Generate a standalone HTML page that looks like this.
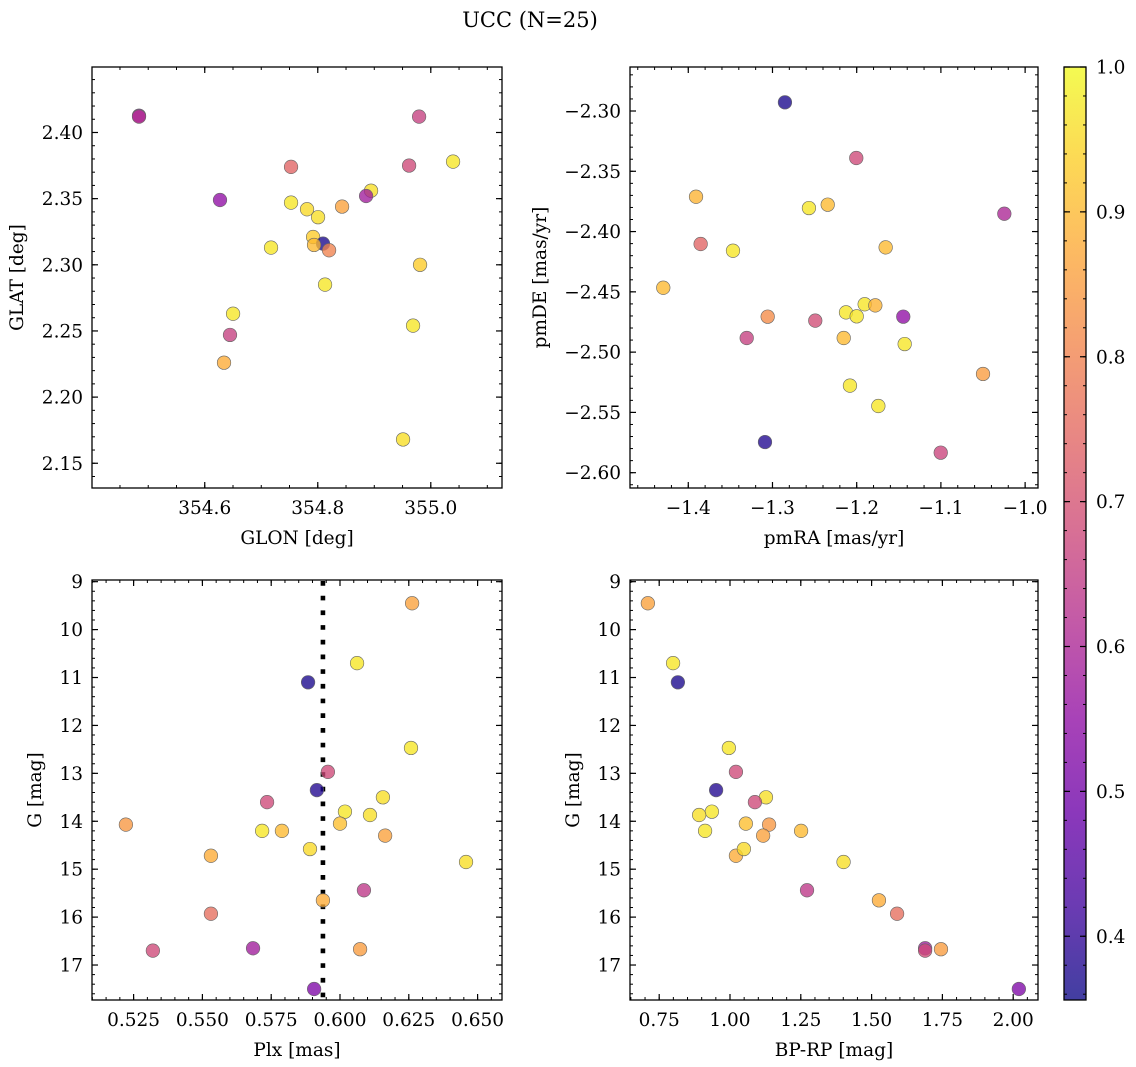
<!DOCTYPE html>
<html><head><meta charset="utf-8"><title>UCC (N=25)</title>
<style>
html,body{margin:0;padding:0;background:#fff;}
svg{display:block;font-family:"DejaVu Serif","Liberation Serif",serif;}
</style></head>
<body>
<svg id="fig" width="1136" height="1067" viewBox="0 0 1136 1067" xmlns="http://www.w3.org/2000/svg">
<defs>
<linearGradient id="plasma" x1="0" y1="1" x2="0" y2="0">
<stop offset="0" stop-color="#0d0887"/><stop offset="0.1" stop-color="#41049d"/><stop offset="0.2" stop-color="#6a00a8"/><stop offset="0.3" stop-color="#8f0da4"/><stop offset="0.4" stop-color="#b12a90"/><stop offset="0.5" stop-color="#cc4778"/><stop offset="0.6" stop-color="#e16462"/><stop offset="0.7" stop-color="#f2844b"/><stop offset="0.8" stop-color="#fca636"/><stop offset="0.9" stop-color="#fcce25"/><stop offset="1" stop-color="#f0f921"/>
</linearGradient>
</defs>
<text x="530" y="27" text-anchor="middle" font-size="21">UCC (N=25)</text>
</svg>
<script>
// ---- data ----
const glon = [354.4837,354.4837,354.627,354.7527,354.9793,354.9616,355.0394,354.8943,354.8855,354.843,354.7527,354.781,354.8005,354.7917,354.8093,354.7934,354.82,354.7173,354.981,354.8129,354.6501,354.6447,354.9686,354.6341,354.9509];
const glat = [2.4127,2.4120,2.349,2.374,2.412,2.375,2.378,2.356,2.352,2.344,2.347,2.342,2.336,2.321,2.316,2.315,2.311,2.313,2.300,2.285,2.263,2.247,2.254,2.226,2.168];
const probPos = [0.55,0.62,0.55,0.74,0.66,0.68,0.97,0.96,0.58,0.86,0.97,0.95,0.96,0.93,0.37,0.90,0.80,0.97,0.93,0.97,0.97,0.66,0.97,0.88,0.96];

const pmra = [-1.2852,-1.2005,-1.3908,-1.2567,-1.2344,-1.0247,-1.3853,-1.3469,-1.1656,-1.4297,-1.3057,-1.3306,-1.2492,-1.2127,-1.1905,-1.1779,-1.2000,-1.1447,-1.2154,-1.1430,-1.0500,-1.2080,-1.1743,-1.3089,-1.1002];
const pmde = [-2.2928,-2.339,-2.3711,-2.3805,-2.3777,-2.3852,-2.4103,-2.4159,-2.4131,-2.4466,-2.4706,-2.4883,-2.4739,-2.467,-2.4603,-2.4612,-2.4703,-2.4706,-2.4883,-2.4933,-2.5181,-2.5278,-2.5447,-2.5746,-2.5834];
const probPm = [0.37,0.68,0.89,0.97,0.90,0.60,0.74,0.97,0.90,0.90,0.82,0.66,0.69,0.97,0.97,0.89,0.97,0.55,0.90,0.97,0.85,0.97,0.97,0.38,0.67];

const plx = [0.6262,0.6062,0.5884,0.6258,0.5956,0.5916,0.6156,0.5735,0.6018,0.6109,0.6000,0.5222,0.5717,0.5789,0.6164,0.5531,0.5891,0.6458,0.6087,0.5938,0.5531,0.5684,0.5320,0.6073,0.5906];
const gmag = [9.45,10.7,11.1,12.47,12.97,13.35,13.5,13.6,13.8,13.87,14.05,14.07,14.2,14.2,14.3,14.72,14.58,14.85,15.44,15.65,15.93,16.65,16.7,16.67,17.5];
const bprp = [0.710,0.799,0.816,0.996,1.021,0.951,1.127,1.088,0.936,0.891,1.056,1.138,0.912,1.251,1.117,1.021,1.049,1.401,1.272,1.526,1.590,1.689,1.689,1.745,2.020];
const probPh = [0.86,0.97,0.37,0.97,0.68,0.38,0.96,0.68,0.97,0.96,0.91,0.84,0.97,0.90,0.86,0.88,0.95,0.96,0.64,0.88,0.76,0.58,0.68,0.85,0.52];

const plxMean = [0.5938];
const cbTicks = [0.4,0.5,0.6,0.7,0.8,0.9,1.0];

// ---- helpers ----
const NS = "http://www.w3.org/2000/svg";
const svg = document.getElementById('fig');
function mk(tag, attrs, parent){const e=document.createElementNS(NS,tag);for(const k in attrs)e.setAttribute(k,attrs[k]);(parent||svg).appendChild(e);return e;}
const stops=[[0,[13,8,135]],[0.1,[65,4,157]],[0.2,[106,0,168]],[0.3,[143,13,164]],[0.4,[177,42,144]],[0.5,[204,71,120]],[0.6,[225,100,98]],[0.7,[242,132,75]],[0.8,[252,166,54]],[0.9,[252,206,37]],[1,[240,249,33]]];
function plasma(t){t=Math.max(0,Math.min(1,t));for(let i=1;i<stops.length;i++){if(t<=stops[i][0]){const a=stops[i-1],b=stops[i];const f=(t-a[0])/(b[0]-a[0]);const c=a[1].map((v,j)=>Math.round(v+(b[1][j]-v)*f));return `rgb(${c[0]},${c[1]},${c[2]})`;}}return 'rgb(240,249,33)';}
const vmin=0.356, vmax=1.0;
function fmt(v,d){const s=v.toFixed(d);return s.replace('-','\u2212');}
const FS=18.5;

function panel(o){
  const g=mk('g',{});
  
  
  const X=v=>o.x0+(v-o.xmin)/(o.xmax-o.xmin)*(o.x1-o.x0);
  const Y=o.yinv? v=>o.y0+(v-o.ymin)/(o.ymax-o.ymin)*(o.y1-o.y0) : v=>o.y1-(v-o.ymin)/(o.ymax-o.ymin)*(o.y1-o.y0);
  if(o.vline){o.vline.forEach(v=>{const l=mk('line',{x1:X(v),x2:X(v),y1:o.y0+1,y2:o.y1,stroke:'#000','stroke-width':4.6,'stroke-dasharray':'4.7 10'},g);});}
  for(let i=0;i<o.xs.length;i++){
    const c=mk('circle',{cx:X(o.xs[i]),cy:Y(o.ys[i]),r:6.8,fill:plasma((o.cs[i]-vmin)/(vmax-vmin)),'fill-opacity':0.78,stroke:'#666','stroke-width':0.6},g);
    
    
  }
  const f=mk('rect',{x:o.x0,y:o.y0,width:o.x1-o.x0,height:o.y1-o.y0,fill:'none',stroke:'#000','stroke-width':1.3},g);
  
  
  const eps=1e-9;
  function ticks(min,max,step){const a=[];const s=Math.ceil((min-eps)/step);for(let k=s;k*step<=max+eps;k++)a.push(+(k*step).toFixed(6));return a;}
  ticks(o.xmin,o.xmax,o.xminor).forEach(v=>{const x=X(v);mk('line',{x1:x,x2:x,y1:o.y1,y2:o.y1-3,stroke:'#000','stroke-width':1},g);mk('line',{x1:x,x2:x,y1:o.y0,y2:o.y0+3,stroke:'#000','stroke-width':1},g);});
  ticks(o.xmin,o.xmax,o.xmajor).forEach(v=>{const x=X(v);mk('line',{x1:x,x2:x,y1:o.y1,y2:o.y1-6,stroke:'#000','stroke-width':1.2},g);mk('line',{x1:x,x2:x,y1:o.y0,y2:o.y0+6,stroke:'#000','stroke-width':1.2},g);
    const t=mk('text',{x:x,y:o.y1+26,'text-anchor':'middle','font-size':FS},g);t.textContent=fmt(v,o.xdec);});
  ticks(o.ymin,o.ymax,o.yminor).forEach(v=>{const y=Y(v);mk('line',{x1:o.x0,x2:o.x0+3,y1:y,y2:y,stroke:'#000','stroke-width':1},g);mk('line',{x1:o.x1,x2:o.x1-3,y1:y,y2:y,stroke:'#000','stroke-width':1},g);});
  ticks(o.ymin,o.ymax,o.ymajor).forEach(v=>{const y=Y(v);mk('line',{x1:o.x0,x2:o.x0+6,y1:y,y2:y,stroke:'#000','stroke-width':1.2},g);mk('line',{x1:o.x1,x2:o.x1-6,y1:y,y2:y,stroke:'#000','stroke-width':1.2},g);
    const t=mk('text',{x:o.x0-9,y:y+6.5,'text-anchor':'end','font-size':FS},g);t.textContent=fmt(v,o.ydec);});
  const xl=mk('text',{x:(o.x0+o.x1)/2,y:o.y1+56,'text-anchor':'middle','font-size':FS},g);xl.textContent=o.xlabel;
  const cy=(o.y0+o.y1)/2;
  const yl=mk('text',{x:o.ylx,y:cy,'text-anchor':'middle','font-size':FS,transform:`rotate(-90 ${o.ylx} ${cy})`},g);yl.textContent=o.ylabel;
}

panel({name:'glon-glat-panel',x0:92,x1:502,y0:67,y1:488,xmin:354.4005,xmax:355.126,ymin:2.1313,ymax:2.4495,xmajor:0.2,xminor:0.05,ymajor:0.05,yminor:0.01,xdec:1,ydec:2,xs:glon,ys:glat,cs:probPos,xlabel:'GLON [deg]',ylabel:'GLAT [deg]',ylx:23});
panel({name:'pm-panel',x0:630,x1:1038,y0:67,y1:488,xmin:-1.4692,xmax:-0.9847,ymin:-2.6127,ymax:-2.2635,xmajor:0.1,xminor:0.02,ymajor:0.05,yminor:0.01,xdec:1,ydec:2,xs:pmra,ys:pmde,cs:probPm,xlabel:'pmRA [mas/yr]',ylabel:'pmDE [mas/yr]',ylx:546});
panel({name:'plx-g-panel',x0:92,x1:502,y0:580,y1:1000,xmin:0.50988,xmax:0.65887,ymin:8.965,ymax:17.73,yinv:true,xmajor:0.025,xminor:0.005,ymajor:1,yminor:0.2,xdec:3,ydec:0,xs:plx,ys:gmag,cs:probPh,vline:plxMean,xlabel:'Plx [mas]',ylabel:'G [mag]',ylx:41});
panel({name:'cmd-panel',x0:630,x1:1038,y0:580,y1:1000,xmin:0.6469,xmax:2.0876,ymin:8.965,ymax:17.73,yinv:true,xmajor:0.25,xminor:0.05,ymajor:1,yminor:0.2,xdec:2,ydec:0,xs:bprp,ys:gmag,cs:probPh,xlabel:'BP-RP [mag]',ylabel:'G [mag]',ylx:579});

// colorbar
(function(){
  const g=mk('g',{});
  
  
  const x0=1064,x1=1086,y0=67,y1=1000;
  const Y=v=>y1-(v-vmin)/(vmax-vmin)*(y1-y0);
  mk('rect',{x:x0,y:y0,width:x1-x0,height:y1-y0,fill:'url(#plasma)','fill-opacity':0.78},g);
  mk('rect',{x:x0,y:y0,width:x1-x0,height:y1-y0,fill:'none',stroke:'#000','stroke-width':1.3},g);
  for(let k=Math.ceil(vmin/0.02);k*0.02<=vmax+1e-9;k++){const y=Y(k*0.02);mk('line',{x1:x1,x2:x1-3,y1:y,y2:y,stroke:'#000','stroke-width':1},g);mk('line',{x1:x0,x2:x0+3,y1:y,y2:y,stroke:'#000','stroke-width':1},g);}
  cbTicks.forEach(v=>{const y=Y(v);mk('line',{x1:x1,x2:x1-6,y1:y,y2:y,stroke:'#000','stroke-width':1.2},g);mk('line',{x1:x0,x2:x0+6,y1:y,y2:y,stroke:'#000','stroke-width':1.2},g);
    const t=mk('text',{x:x1+10,y:y+6.5,'font-size':FS},g);t.textContent=v.toFixed(1);});
})();
</script>
</body></html>
